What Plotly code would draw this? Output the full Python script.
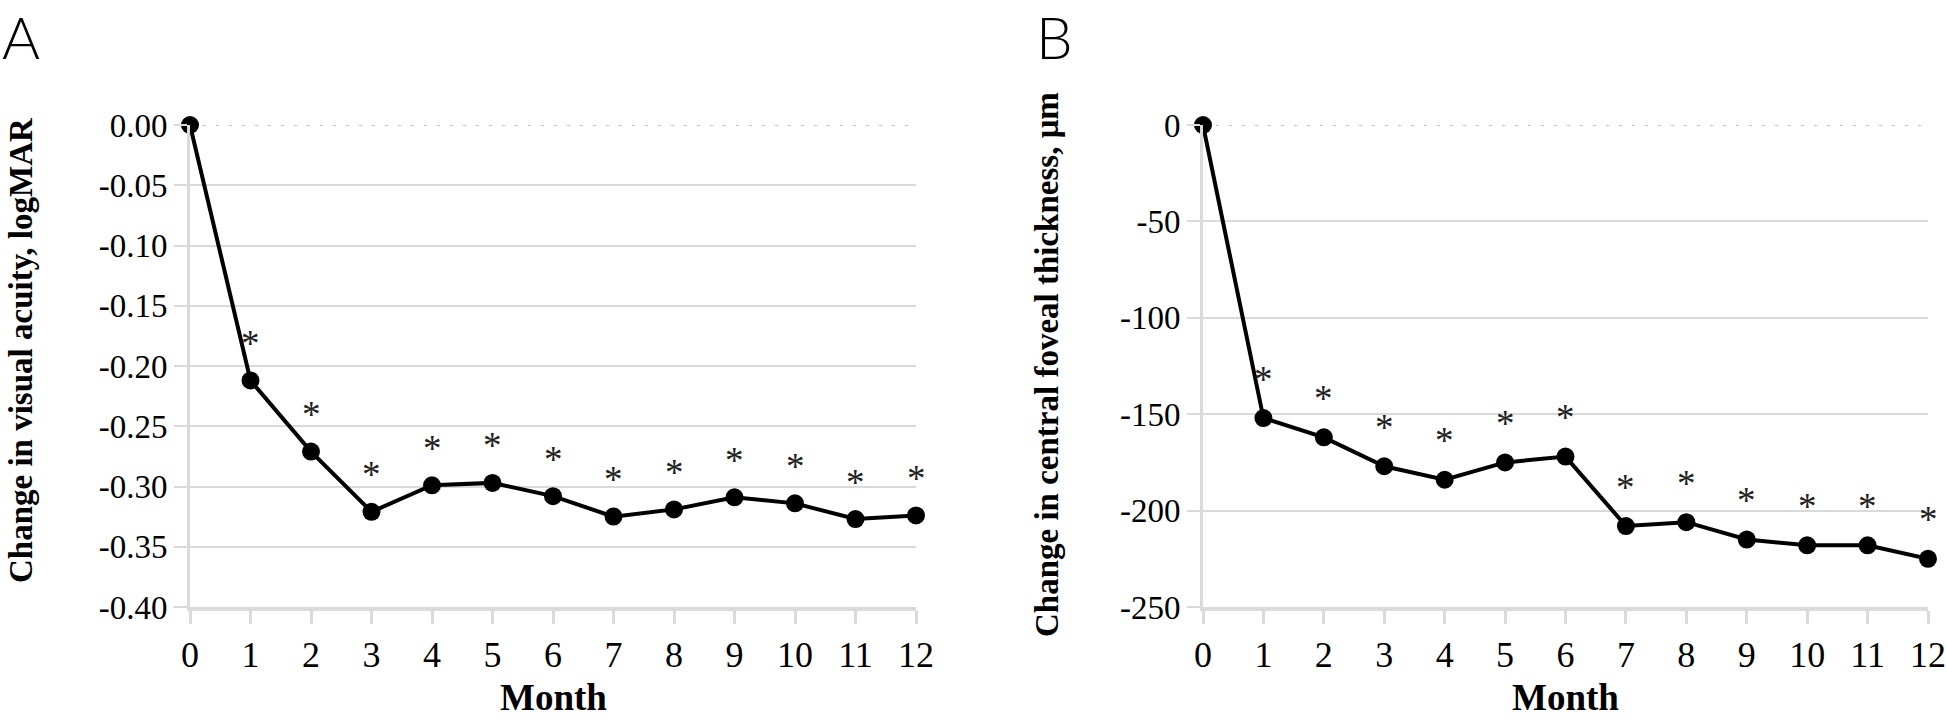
import plotly.graph_objects as go

# ---- data ----
months = [0, 1, 2, 3, 4, 5, 6, 7, 8, 9, 10, 11, 12]
visual_acuity_change = [0.000, -0.212, -0.271, -0.321, -0.299, -0.297, -0.308,
                        -0.325, -0.319, -0.309, -0.314, -0.327, -0.324]
cft_change = [0, -152, -162, -177, -184, -175, -172, -208, -206, -215, -218, -218, -225]
significant = [False] + [True] * 12

va_ticks = [0.0, -0.05, -0.10, -0.15, -0.20, -0.25, -0.30, -0.35, -0.40]
va_ticklabels = ["0.00", "-0.05", "-0.10", "-0.15", "-0.20", "-0.25", "-0.30", "-0.35", "-0.40"]
cft_ticks = [0, -50, -100, -150, -200, -250]
cft_ticklabels = ["0", "-50", "-100", "-150", "-200", "-250"]

W, H = 1946, 720
SERIF = "Liberation Serif, Times New Roman, serif"
GRID = "#dadada"

def px_x(p):
    return p / W

def px_y(p):
    return 1 - p / H

fig = go.Figure()

line_style = dict(color="black", width=4)
marker_style = dict(color="black", size=18)

fig.add_trace(go.Scatter(x=months, y=visual_acuity_change, mode="lines+markers",
                         line=line_style, marker=marker_style, cliponaxis=False,
                         xaxis="x", yaxis="y", showlegend=False))
fig.add_trace(go.Scatter(x=months, y=cft_change, mode="lines+markers",
                         line=line_style, marker=marker_style, cliponaxis=False,
                         xaxis="x2", yaxis="y2", showlegend=False))

y_dom = [px_y(607), px_y(125)]

common_x = dict(
    range=[0, 12], tickmode="array", tickvals=months, ticktext=[str(m) for m in months],
    showgrid=False, zeroline=False, showline=True, linecolor=GRID, linewidth=4,
    ticks="outside", ticklen=13, tickwidth=3, tickcolor=GRID, automargin=False,
    tickfont=dict(family=SERIF, size=36, color="black"),
)
common_y = dict(
    showgrid=True, gridcolor=GRID, gridwidth=2, zeroline=False,
    showline=True, linecolor=GRID, linewidth=3, automargin=False,
    ticks="outside", ticklen=13, tickwidth=2, tickcolor=GRID,
    tickfont=dict(family=SERIF, size=33, color="black"),
)

fig.update_layout(
    width=W, height=H, autosize=False,
    margin=dict(l=0, r=0, t=0, b=0, pad=0, autoexpand=False),
    paper_bgcolor="white", plot_bgcolor="white",
    showlegend=False,
    xaxis=dict(domain=[px_x(190), px_x(916)], anchor="y", **common_x),
    yaxis=dict(domain=y_dom, anchor="x", range=[-0.40, 0.0],
               tickvals=va_ticks, ticktext=va_ticklabels, **common_y),
    xaxis2=dict(domain=[px_x(1203), px_x(1928)], anchor="y2", **common_x),
    yaxis2=dict(domain=y_dom, anchor="x2", range=[-250, 0],
                tickvals=cft_ticks, ticktext=cft_ticklabels, **common_y),
)

# dotted zero reference lines
for xr, yr in (("x domain", "y"), ("x2 domain", "y2")):
    fig.add_shape(type="line", xref=xr, yref=yr, x0=-0.018, x1=1, y0=0, y1=0,
                  line=dict(color="#c4c4c4", width=2, dash="3px,10px"), layer="below")

# significance asterisks
star_font = dict(family=SERIF, size=37, color="#222")
for m, v, s in zip(months, visual_acuity_change, significant):
    if s:
        fig.add_annotation(x=m, y=v, xref="x", yref="y", text="*", showarrow=False,
                           yshift=37, font=star_font)
for m, v, s in zip(months, cft_change, significant):
    if s:
        fig.add_annotation(x=m, y=v, xref="x2", yref="y2", text="*", showarrow=False,
                           yshift=39, font=star_font)

# axis titles
bold = dict(family=SERIF, size=37, color="black", weight="bold")
fig.add_annotation(x=px_x(553), y=0, xref="paper", yref="paper", text="Month",
                   showarrow=False, xanchor="center", yanchor="bottom", font=bold)
fig.add_annotation(x=px_x(1565), y=0, xref="paper", yref="paper", text="Month",
                   showarrow=False, xanchor="center", yanchor="bottom", font=bold)
ytitle_font = dict(family=SERIF, size=33, color="black", weight="bold")
fig.add_annotation(x=px_x(21), y=px_y(350), xref="paper", yref="paper",
                   text="Change in visual acuity, logMAR", textangle=-90,
                   showarrow=False, xanchor="center", yanchor="middle", font=ytitle_font)
fig.add_annotation(x=px_x(1047), y=px_y(365), xref="paper", yref="paper",
                   text="Change in central foveal thickness, μm", textangle=-90,
                   showarrow=False, xanchor="center", yanchor="middle", font=ytitle_font)

# panel labels
panel_font = dict(family="Lato, Open Sans, DejaVu Sans, sans-serif", size=58,
                  color="black", weight=300)
fig.add_annotation(x=0, y=1, xref="paper", yref="paper", text="A", showarrow=False,
                   xanchor="left", yanchor="top", yshift=0, font=panel_font)
fig.add_annotation(x=px_x(1034), y=1, xref="paper", yref="paper", text="B", showarrow=False,
                   xanchor="left", yanchor="top", yshift=0, font=panel_font)

fig.write_html(
    "out.html",
    config={"displayModeBar": False},
    post_script="document.body.style.margin='0';document.body.style.overflow='hidden';",
)
